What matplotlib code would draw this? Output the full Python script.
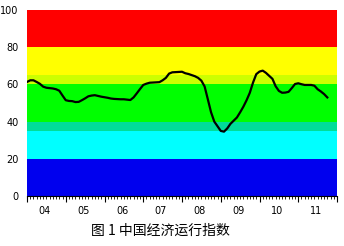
import numpy as np
import matplotlib.pyplot as plt

# monthly index, Jan 2004 .. Oct 2011
index_vals = [61.3, 62.2, 62.2, 61.3, 60.3, 58.8, 58.2, 58.0, 57.8, 57.4, 56.6, 54.0,
              51.5, 51.1, 51.0, 50.5, 50.6, 51.5, 52.5, 53.6, 54.0, 54.2, 53.8, 53.4,
              53.1, 52.8, 52.4, 52.2, 52.1, 52.0, 52.0, 51.8, 51.6, 53.0, 55.2, 57.5,
              59.7, 60.4, 60.9, 61.0, 61.1, 61.2, 62.2, 63.5, 65.8, 66.5, 66.6, 66.7,
              66.8, 66.0, 65.6, 65.0, 64.4, 63.5, 62.0, 58.9, 52.0, 45.0, 40.0, 37.5,
              35.0, 34.6, 36.3, 38.8, 40.5, 42.2, 45.0, 48.0, 51.5, 55.5, 61.0, 65.5,
              66.9, 67.4, 66.2, 64.6, 63.0, 59.0, 56.5, 55.5, 55.6, 56.0, 58.0, 60.2,
              60.6, 60.1, 59.7, 59.7, 59.7, 59.3, 57.4, 56.2, 54.8, 53.0]
year_labels = ['04', '05', '06', '07', '08', '09', '10', '11']

# signal bands (low, high, colour)
bands = [(0, 20, '#0000EE'), (20, 35, '#00FFFF'), (35, 40, '#00DD99'),
         (40, 60, '#00FF00'), (60, 65, '#CCFF00'), (65, 80, '#FFFF00'),
         (80, 100, '#FF0000')]

months = np.arange(len(index_vals))

fig = plt.figure(figsize=(3.44, 2.46), dpi=100)
ax = fig.add_axes([27/344, 50/246, 310/344, 186/246])

for lo, hi, c in bands:
    ax.axhspan(lo, hi, color=c, lw=0)

ax.plot(months, index_vals, color='black', lw=1.6)

ax.set_xlim(0, 96)
ax.set_ylim(0, 100)
ax.set_yticks([0, 20, 40, 60, 80, 100])
ax.tick_params(axis='y', length=0, labelsize=7, pad=6)

ax.set_xticks(np.arange(0, 97, 12))
ax.set_xticks(np.arange(0, 97, 1), minor=True)
ax.set_xticklabels([])
ax.tick_params(axis='x', which='major', length=4, width=0.8, direction='out')
ax.tick_params(axis='x', which='minor', length=2, width=0.6, direction='out')

for i, lab in enumerate(year_labels):
    ax.text(i*12 + 5.5, -0.08, lab, transform=ax.get_xaxis_transform(),
            ha='center', va='center', fontsize=7)

for s in ['top', 'right', 'left']:
    ax.spines[s].set_visible(False)
ax.spines['bottom'].set_linewidth(0.8)

fig.text(160/344, 15/246, '图 1 中国经济运行指数', ha='center', va='center',
         fontsize=10, family=['Noto Sans CJK SC', 'DejaVu Sans'])

fig.savefig('out.png', dpi=100)
